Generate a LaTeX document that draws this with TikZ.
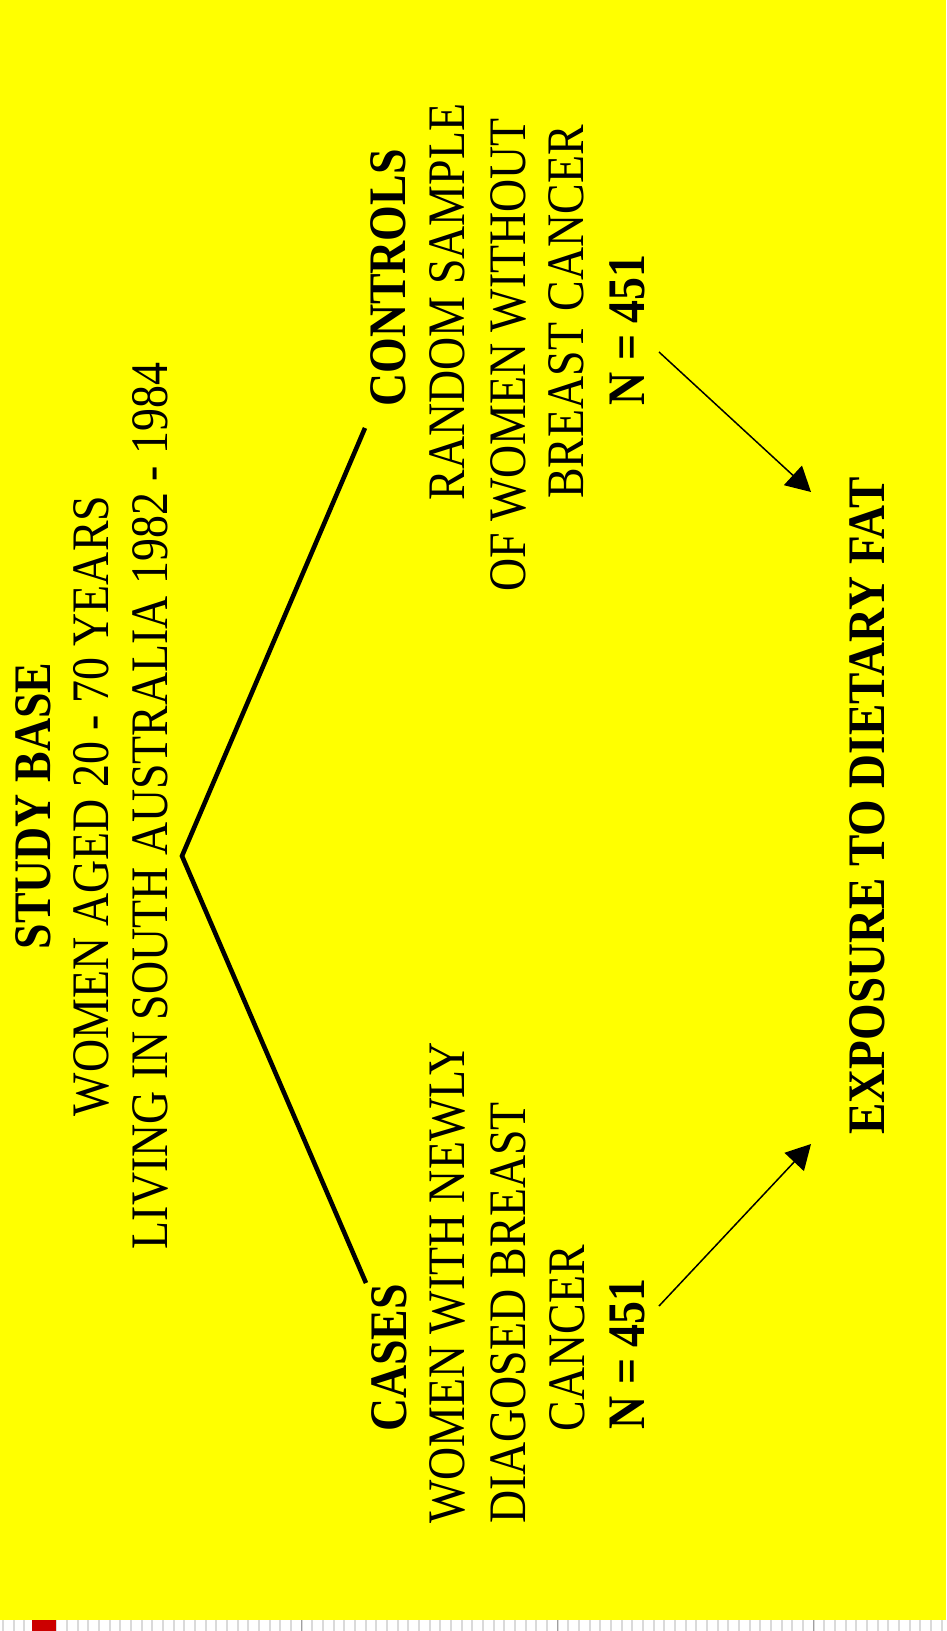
\documentclass[tikz,border=0pt]{standalone}
\usepackage{fontspec}
\setmainfont{Liberation Serif}
\usetikzlibrary{arrows.meta}
\definecolor{slideyellow}{RGB}{255,255,0}
\definecolor{markred}{RGB}{204,0,0}
\definecolor{tickgray}{RGB}{218,218,218}
\definecolor{tickdark}{RGB}{160,160,160}
\begin{document}
\begin{tikzpicture}[x=0.02cm,y=-0.02cm,
  slidetext/.style={rotate=90,xscale=0.87,anchor=base,inner sep=0pt,font=\fontsize{30}{36}\selectfont},
  slidehead/.style={slidetext,font=\fontsize{30}{36}\selectfont\bfseries},
  vline/.style={line width=2.6pt},
  fatarrow/.style={line width=0.85pt,-{Triangle[length=14pt,width=15pt]}}]
\useasboundingbox (0,0) rectangle (946,1631);
\fill[slideyellow] (0,0) rectangle (946,1620);
\fill[white] (0,1620) rectangle (946,1631);
\foreach \k in {0,...,88} {
  \pgfmathsetmacro\tx{3+\k*10.667}
  \fill[tickgray] (\tx-1,1620) rectangle (\tx+1,1631);
}
\foreach \k in {28,52,76} {
  \pgfmathsetmacro\tx{3+\k*10.667}
  \fill[tickdark] (\tx-0.7,1620) rectangle (\tx+0.7,1631);
}
\fill[markred] (32,1620) rectangle (56,1631);
% study base
\node[slidehead] (study) at (50,806) {STUDY BASE};
\node[slidetext] (women) at (108,806) {WOMEN AGED 20 - 70 YEARS};
\node[slidetext] (living) at (167,806) {LIVING IN SOUTH AUSTRALIA 1982 - 1984};
% controls
\node[slidehead] (controls) at (405,278) {CONTROLS};
\node[slidetext] (random) at (464,302) {RANDOM SAMPLE};
\node[slidetext] (ofwomen) at (525,355) {OF WOMEN WITHOUT};
\node[slidetext] (breastc) at (583,312) {BREAST CANCER};
\node[slidehead] (nctrl) at (644,330) {N = 451};
% cases
\node[slidehead] (cases) at (406,1358) {CASES};
\node[slidetext] (newly) at (464,1283) {WOMEN WITH NEWLY};
\node[slidetext] (diag) at (525,1313) {DIAGOSED BREAST};
\node[slidetext] (cancer) at (584,1338) {CANCER};
\node[slidehead] (ncase) at (644,1354) {N = 451};
% exposure
\node[slidehead,xscale=1.025] (exposure) at (884,806) {EXPOSURE TO DIETARY FAT};
\coordinate (vtop) at (365,428);
\coordinate (apex) at (182,856);
\coordinate (vbot) at (366,1283);
\draw[vline] (vtop) -- (apex) -- (vbot);
\coordinate (ctrlfrom) at (659,352);
\coordinate (ctrlto) at (811,492);
\coordinate (casefrom) at (659,1306);
\coordinate (caseto) at (811,1144);
\draw[fatarrow] (ctrlfrom) -- (ctrlto);
\draw[fatarrow] (casefrom) -- (caseto);
\end{tikzpicture}
\end{document}
